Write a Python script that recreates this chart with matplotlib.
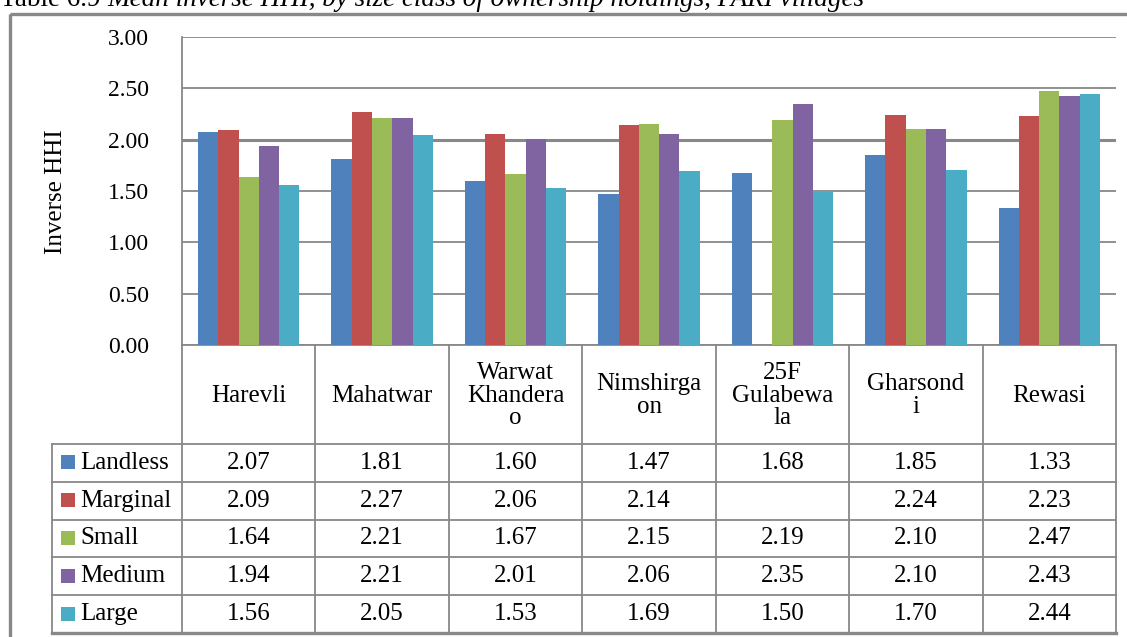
import numpy as np
import matplotlib
matplotlib.use("Agg")
import matplotlib.pyplot as plt
from matplotlib.lines import Line2D
from matplotlib.patches import Rectangle

# ---- data -------------------------------------------------------------
villages = ["Harevli", "Mahatwar", "Warwat\nKhandera\no", "Nimshirga\non",
            "25F\nGulabewa\nla", "Gharsond\ni", "Rewasi"]
size_classes = ["Landless", "Marginal", "Small", "Medium", "Large"]
landless = [2.07, 1.81, 1.60, 1.47, 1.68, 1.85, 1.33]
marginal = [2.09, 2.27, 2.06, 2.14, np.nan, 2.24, 2.23]
small = [1.64, 2.21, 1.67, 2.15, 2.19, 2.10, 2.47]
medium = [1.94, 2.21, 2.01, 2.06, 2.35, 2.10, 2.43]
large = [1.56, 2.05, 1.53, 1.69, 1.50, 1.70, 2.44]
y_ticks = [0.0, 0.5, 1.0, 1.5, 2.0, 2.5, 3.0]

series = [landless, marginal, small, medium, large]
colors = ["#4F81BD", "#C0504D", "#9BBB59", "#8064A2", "#4BACC6"]

# ---- layout (pixels) --------------------------------------------------
W, H = 1127, 637
plot_l, plot_r = 182, 1116
plot_t, plot_b = 37, 345
head_b = 444
row_h = (633 - head_b) / 5
legend_l = 52
grey = "#888888"
FONT = "Liberation Serif"

fig = plt.figure(figsize=(W / 100, H / 100), dpi=100)
fig.patch.set_facecolor("white")

ax = fig.add_axes([plot_l / W, 1 - plot_b / H,
                   (plot_r - plot_l) / W, (plot_b - plot_t) / H])
n_cat = len(villages)
x = np.arange(n_cat) + 0.5
bw = 0.152
for k, (vals, col) in enumerate(zip(series, colors)):
    v = np.asarray(vals, dtype=float)
    ok = ~np.isnan(v)
    ax.bar(x[ok] + (k - 2) * bw, v[ok], width=bw, color=col,
           linewidth=0, zorder=2)

ax.set_xlim(0, n_cat)
ax.set_ylim(0, 3.0)
ax.set_yticks(y_ticks)
ax.set_yticklabels([f"{t:.2f}" for t in y_ticks], fontfamily=FONT,
                   fontsize=17)
ax.tick_params(axis="y", length=0, pad=24)
ax.set_xticks([])
for t in y_ticks:
    ax.axhline(t, color=grey, lw=2.2 if t == 2.0 else 1.3, zorder=1)
for s in ["top", "right", "bottom"]:
    ax.spines[s].set_visible(False)
ax.spines["left"].set_color(grey)
ax.spines["left"].set_linewidth(1.3)
ax.patch.set_alpha(0)

# ---- overlay for frame, data table and text ---------------------------
ov = fig.add_axes([0, 0, 1, 1], zorder=-1)
ov.set_xlim(0, W)
ov.set_ylim(H, 0)
ov.axis("off")

# outer frame
ov.add_patch(Rectangle((9.5, 14), W + 20, H + 20, fill=False,
                       edgecolor=grey, lw=2.4))

# title (runs off the top of the page)
t1 = ov.text(0, 6, "Table 6.9 ", fontfamily=FONT, fontsize=19.5,
             va="baseline", ha="left")
fig.canvas.draw()
bb = t1.get_window_extent()
ov.text(bb.x1, 6, "Mean inverse HHI, by size class of ownership holdings, "
        "PARI villages", fontfamily=FONT, fontsize=19.5, style="italic",
        va="baseline", ha="left")

# y label
ov.text(56, 192, "Inverse HHI", fontfamily=FONT, fontsize=18,
        rotation=90, ha="center", va="center")

# table grid
col_w = (plot_r - plot_l) / n_cat
col_edges = [plot_l + i * col_w for i in range(n_cat + 1)]
ov.add_line(Line2D([plot_l, plot_r], [plot_b, plot_b], color=grey, lw=1.3))
for i in range(6):
    y = head_b + i * row_h
    ov.add_line(Line2D([legend_l, plot_r], [y, y], color=grey,
                       lw=2.4 if i == 5 else 1.3))
ov.add_line(Line2D([legend_l, legend_l], [head_b, head_b + 5 * row_h],
                   color=grey, lw=1.3))
for xe in col_edges:
    ov.add_line(Line2D([xe, xe], [plot_b, head_b + 5 * row_h],
                       color=grey, lw=1.3))

# category header
for i, name in enumerate(villages):
    ov.text((col_edges[i] + col_edges[i + 1]) / 2, (plot_b + head_b) / 2 + 1,
            name, fontfamily=FONT, fontsize=18, ha="center", va="center",
            linespacing=1.05)

# legend keys and values
for r, (lab, vals, col) in enumerate(zip(size_classes, series, colors)):
    yc = head_b + (r + 0.5) * row_h
    ov.add_patch(Rectangle((61, yc - 7.5), 14, 14, color=col, lw=0))
    ov.text(80, yc, lab, fontfamily=FONT, fontsize=18, ha="left",
            va="center")
    for i, v in enumerate(vals):
        if np.isnan(v):
            continue
        ov.text((col_edges[i] + col_edges[i + 1]) / 2, yc, f"{v:.2f}",
                fontfamily=FONT, fontsize=18, ha="center", va="center")

fig.savefig("out.png", dpi=100, facecolor="white")
